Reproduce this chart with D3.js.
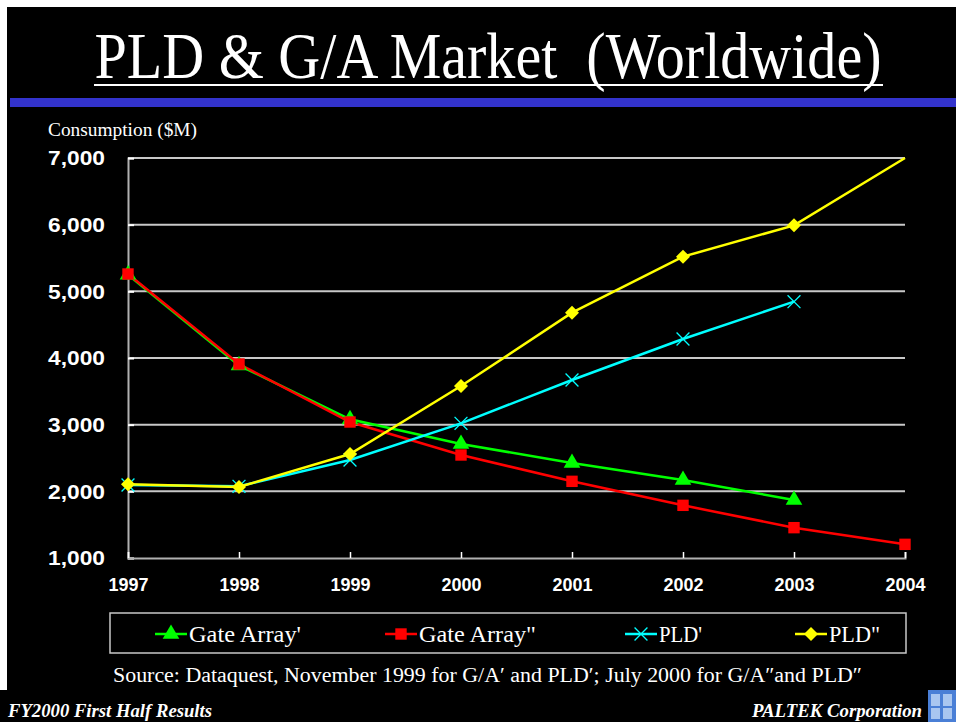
<!DOCTYPE html>
<html><head><meta charset="utf-8">
<script src="https://cdn.jsdelivr.net/npm/d3@7"></script>
<style>
html,body{margin:0;padding:0;background:#000;}
svg{display:block;}
</style></head>
<body>
<svg id="chart" width="956" height="722"></svg>
<script>
const years = [1997, 1998, 1999, 2000, 2001, 2002, 2003, 2004];
const gateArrayPrime = [5250, 3890, 3080, 2710, 2425, 2170, 1870];
const gateArrayDouble = [5260, 3910, 3040, 2545, 2150, 1790, 1455, 1205];
const pldPrime = [2095, 2075, 2470, 3020, 3670, 4285, 4845];
const pldDouble = [2105, 2065, 2560, 3580, 4680, 5520, 5990, 7000];
const yTicks = [1000, 2000, 3000, 4000, 5000, 6000, 7000];
const seriesNames = ["Gate Array'", "Gate Array\"", "PLD'", "PLD\""];
const seriesColors = ["#00ff00", "#ff0000", "#00ffff", "#ffff00"];
const seriesSymbols = ["triangle", "square", "cross", "diamond"];

const svg = d3.select("#chart");
const W = 956, H = 722;
svg.append("rect").attr("width", W).attr("height", H).attr("fill", "#000");
svg.append("rect").attr("x", 0).attr("y", 0).attr("width", W).attr("height", 7).attr("fill", "#fff");
svg.append("rect").attr("x", 0).attr("y", 0).attr("width", 7).attr("height", 690).attr("fill", "#fff");

// title
svg.append("text")
  .attr("transform", "translate(488,78) scale(1,1.1)")
  .attr("text-anchor", "middle")
  .attr("font-family", "'Liberation Serif','Times New Roman',serif")
  .attr("font-size", 60).attr("fill", "#fff")
  .attr("textLength", 787).attr("lengthAdjust", "spacingAndGlyphs")
  .style("white-space", "pre")
  .text("PLD & G/A Market  (Worldwide)");
svg.append("rect").attr("x", 94).attr("y", 84).attr("width", 789).attr("height", 2).attr("fill", "#fff");

svg.append("rect").attr("x", 10).attr("y", 98).attr("width", 946).attr("height", 9).attr("fill", "#3333cc");

const x = d3.scaleLinear().domain([1997, 2004]).range([128, 905]);
const y = d3.scaleLinear().domain([1000, 7000]).range([558, 158]);

svg.append("g").selectAll("line").data(yTicks.filter(v => v > 1000)).join("line")
  .attr("x1", x(1997)).attr("x2", x(2004))
  .attr("y1", d => y(d)).attr("y2", d => y(d))
  .attr("stroke", "#c8c8c8").attr("stroke-width", 2);

const yAxis = d3.axisLeft(y).tickValues(yTicks).tickSize(-6).tickPadding(23)
  .tickFormat(d3.format(","));
const gy = svg.append("g").attr("transform", `translate(${x(1997)},0)`).call(yAxis);
gy.select(".domain").attr("stroke", "#b0b0b0").attr("stroke-width", 2);
gy.selectAll(".tick line").attr("stroke", "#fff").attr("stroke-width", 2);
gy.selectAll(".tick text").attr("fill", "#fff")
  .attr("font-family", "'Liberation Sans',Arial,sans-serif")
  .attr("font-weight", "bold").attr("font-size", 21)
  .attr("textLength", 57).attr("lengthAdjust", "spacingAndGlyphs");

const xAxis = d3.axisBottom(x).tickValues(years).tickSize(-6).tickPadding(20)
  .tickFormat(d3.format("d"));
const gx = svg.append("g").attr("transform", `translate(0,${y(1000)})`).call(xAxis);
gx.select(".domain").attr("stroke", "#b0b0b0").attr("stroke-width", 2);
gx.selectAll(".tick line").attr("stroke", "#fff").attr("stroke-width", 1.5);
gx.selectAll(".tick text").attr("fill", "#fff")
  .attr("font-family", "'Liberation Sans',Arial,sans-serif")
  .attr("font-weight", "bold").attr("font-size", 18)
  .attr("textLength", 40).attr("lengthAdjust", "spacingAndGlyphs");

svg.append("text").attr("x", 48).attr("y", 136)
  .attr("font-family", "'Liberation Serif','Times New Roman',serif")
  .attr("font-size", 18).attr("fill", "#fff")
  .attr("textLength", 149).attr("lengthAdjust", "spacingAndGlyphs")
  .text("Consumption ($M)");

const seriesData = [gateArrayPrime, gateArrayDouble, pldPrime, pldDouble];
const line = d3.line().x((d, i) => x(years[i])).y(d => y(d));

const symbolMap = {
  triangle: d3.symbolTriangle, square: d3.symbolSquare, cross: d3.symbolX
};
const symbolSize = {triangle: 120, square: 130, cross: 110};

function drawMarker(g, type, color, cx, cy) {
  let d;
  if (type === "diamond") {
    const r = 7;
    d = `M0,${-r}L${r},0L0,${r}L${-r},0Z`;
  } else {
    d = d3.symbol().type(symbolMap[type]).size(symbolSize[type])();
  }
  const p = g.append("path").attr("d", d)
    .attr("transform", `translate(${cx},${cy})`);
  if (type === "cross") {
    p.attr("fill", "none").attr("stroke", color).attr("stroke-width", 1.3);
  } else {
    p.attr("fill", color);
  }
}

const plot = svg.append("g");
seriesData.forEach((data, si) => {
  plot.append("path").datum(data).attr("d", line)
    .attr("fill", "none").attr("stroke", seriesColors[si]).attr("stroke-width", 2.5);
});
seriesData.forEach((data, si) => {
  data.forEach((v, i) => {
    if (v >= 7000) return;
    drawMarker(plot, seriesSymbols[si], seriesColors[si], x(years[i]), y(v));
  });
});

// legend
svg.append("rect").attr("x", 110).attr("y", 613).attr("width", 796).attr("height", 40)
  .attr("fill", "none").attr("stroke", "#c8c8c8").attr("stroke-width", 1.5);
const legendX = [155, 385, 625, 795];
const legendTextW = [112, 117, 43, 51];
seriesNames.forEach((name, i) => {
  const lx = legendX[i], ly = 634;
  svg.append("line").attr("x1", lx).attr("x2", lx + 32).attr("y1", ly).attr("y2", ly)
    .attr("stroke", seriesColors[i]).attr("stroke-width", 2.5);
  drawMarker(svg, seriesSymbols[i], seriesColors[i], lx + 16, ly);
  svg.append("text").attr("x", lx + 34).attr("y", ly + 8)
    .attr("font-family", "'Liberation Serif','Times New Roman',serif")
    .attr("font-size", 23).attr("fill", "#fff")
    .attr("textLength", legendTextW[i]).attr("lengthAdjust", "spacingAndGlyphs")
    .text(name);
});

svg.append("text").attr("x", 113).attr("y", 682)
  .attr("font-family", "'Liberation Serif','Times New Roman',serif")
  .attr("font-size", 20).attr("fill", "#fff")
  .attr("textLength", 749).attr("lengthAdjust", "spacingAndGlyphs")
  .text("Source: Dataquest, November 1999 for G/A\u2032 and PLD\u2032; July 2000 for G/A\u2033and PLD\u2033");

svg.append("text").attr("x", 8).attr("y", 717)
  .attr("font-family", "'Liberation Serif','Times New Roman',serif")
  .attr("font-size", 18).attr("font-weight", "bold").attr("font-style", "italic")
  .attr("fill", "#fff").attr("textLength", 204).attr("lengthAdjust", "spacingAndGlyphs")
  .text("FY2000 First Half Results");
svg.append("text").attr("x", 752).attr("y", 717)
  .attr("font-family", "'Liberation Serif','Times New Roman',serif")
  .attr("font-size", 18).attr("font-weight", "bold").attr("font-style", "italic")
  .attr("fill", "#fff").attr("textLength", 170).attr("lengthAdjust", "spacingAndGlyphs")
  .text("PALTEK Corporation");
const logo = svg.append("g").attr("transform", "translate(928,690)");
logo.append("rect").attr("width", 28).attr("height", 32).attr("fill", "#4a7fd6");
logo.append("rect").attr("x", 3).attr("y", 4).attr("width", 9).attr("height", 12).attr("fill", "#a9c6f0");
logo.append("rect").attr("x", 15).attr("y", 4).attr("width", 9).attr("height", 12).attr("fill", "#a9c6f0");
logo.append("rect").attr("x", 3).attr("y", 18).attr("width", 9).attr("height", 11).attr("fill", "#a9c6f0");
logo.append("rect").attr("x", 15).attr("y", 18).attr("width", 9).attr("height", 11).attr("fill", "#a9c6f0");
</script>
</body></html>
